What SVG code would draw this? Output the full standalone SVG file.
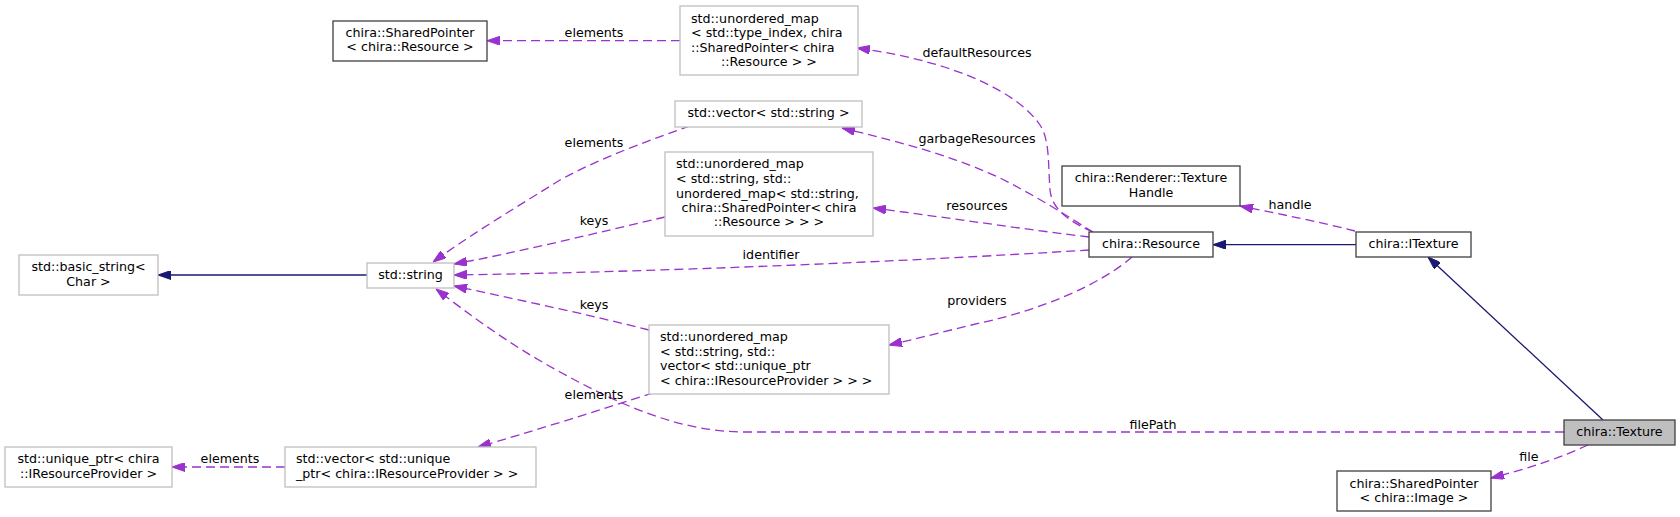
<svg xmlns="http://www.w3.org/2000/svg" width="1680" height="517" viewBox="0 0 1680 517">
<style>
  text { font-family: "DejaVu Sans", "Liberation Sans", sans-serif; font-size: 12.67px; fill: #000; }
  .c { text-anchor: middle; }
  .doc { fill: #fff; stroke: #404040; stroke-width: 1.3; }
  .und { fill: #fff; stroke: #bfbfbf; stroke-width: 1.3; }
  .cur { fill: #bfbfbf; stroke: #404040; stroke-width: 1.3; }
  .use { fill: none; stroke: #9a32cd; stroke-width: 1.3; stroke-dasharray: 9,5; marker-end: url(#ap); }
  .inh { fill: none; stroke: #191970; stroke-width: 1.3; marker-end: url(#an); }
</style>
<defs>
  <marker id="ap" markerUnits="userSpaceOnUse" viewBox="0 0 13 9" refX="13" refY="4.5" markerWidth="13" markerHeight="9" orient="auto">
    <path d="M0,0 L13,4.5 L0,9 z" fill="#9a32cd" stroke="#9a32cd" stroke-width="1"/>
  </marker>
  <marker id="an" markerUnits="userSpaceOnUse" viewBox="0 0 13 9" refX="13" refY="4.5" markerWidth="13" markerHeight="9" orient="auto">
    <path d="M0,0 L13,4.5 L0,9 z" fill="#191970" stroke="#191970" stroke-width="1"/>
  </marker>
</defs>
<rect width="1680" height="517" fill="#fff"/>

<g id="connectors">
  <path class="inh" d="M1603,420 L1428,257"/>
  <path class="inh" d="M1356,244.7 L1213,244.7"/>
  <path class="use" d="M1355,231 C1320,222 1280,214 1240,206"/>
  <path class="use" d="M1093,232 C1070,222 1052,210 1050,190 C1048,165 1050,140 1040,125 C1020,95 960,62 857,48"/>
  <path class="use" d="M1093,232 C1070,218 1040,198 1000,178 C950,155 900,142 842,128"/>
  <path class="use" d="M1089,237 C1030,230 950,218 873,208"/>
  <path class="use" d="M1089,250 C900,262 650,272 454,275"/>
  <path class="use" d="M1132,257 C1100,285 1040,310 980,323 C950,330 920,338 889,345"/>
  <path class="use" d="M665,217 C600,232 520,252 454,264"/>
  <path class="use" d="M690,126 C650,140 600,158 560,180 C520,205 470,235 433,262"/>
  <path class="use" d="M649,330 C590,315 520,300 454,286"/>
  <path class="use" d="M1564,432 L745,432 C680,432 620,405 560,372 C510,345 470,315 436,289"/>
  <path class="use" d="M653,393 C600,410 530,432 478,447"/>
  <path class="use" d="M285,467 L172,467"/>
  <path class="use" d="M680,40.7 L487,40.7"/>
  <path class="inh" d="M367,275 L158,275"/>
  <path class="use" d="M1588,445 C1560,458 1530,468 1491,478"/>
  <text class="c" x="594" y="37">elements</text>
  <text class="c" x="977" y="57">defaultResources</text>
  <text class="c" x="594" y="146.8">elements</text>
  <text class="c" x="977" y="142.8">garbageResources</text>
  <text class="c" x="1290" y="208.5">handle</text>
  <text class="c" x="977" y="210">resources</text>
  <text class="c" x="594" y="224.5">keys</text>
  <text class="c" x="771" y="258.8">identifier</text>
  <text class="c" x="594" y="308.5">keys</text>
  <text class="c" x="977" y="304.8">providers</text>
  <text class="c" x="594" y="398.8">elements</text>
  <text class="c" x="1153" y="428.5">filePath</text>
  <text class="c" x="1529" y="461">file</text>
  <text class="c" x="230" y="463">elements</text>
</g>

<g id="node-texture">
  <rect class="cur" x="1564" y="420" width="111" height="25"/>
  <text class="c" x="1619.5" y="436">chira::Texture</text>
</g>
<g id="node-itexture">
  <rect class="doc" x="1356" y="232" width="115" height="25"/>
  <text class="c" x="1413.5" y="248">chira::ITexture</text>
</g>
<g id="node-resource">
  <rect class="doc" x="1089" y="232" width="124" height="25"/>
  <text class="c" x="1151" y="248">chira::Resource</text>
</g>
<g id="node-texturehandle">
  <rect class="doc" x="1062" y="166" width="178" height="40"/>
  <text class="c" x="1151" y="182">chira::Renderer::Texture</text>
  <text class="c" x="1151" y="196.8">Handle</text>
</g>
<g id="node-sharedptr-image">
  <rect class="doc" x="1337" y="471" width="154" height="40"/>
  <text class="c" x="1414" y="487.5">chira::SharedPointer</text>
  <text class="c" x="1414" y="502">&lt; chira::Image &gt;</text>
</g>
<g id="node-sharedptr-resource">
  <rect class="doc" x="333" y="21" width="154" height="40"/>
  <text class="c" x="410" y="37">chira::SharedPointer</text>
  <text class="c" x="410" y="51">&lt; chira::Resource &gt;</text>
</g>
<g id="node-map-typeindex">
  <rect class="und" x="680" y="6" width="178" height="69"/>
  <text x="691" y="22.8">std::unordered_map</text>
  <text x="691" y="37.2">&lt; std::type_index, chira</text>
  <text x="691" y="51.5">::SharedPointer&lt; chira</text>
  <text class="c" x="769" y="66.2">::Resource &gt; &gt;</text>
</g>
<g id="node-vector-string">
  <rect class="und" x="675" y="101" width="187" height="26"/>
  <text class="c" x="768.5" y="117.2">std::vector&lt; std::string &gt;</text>
</g>
<g id="node-map-string-map">
  <rect class="und" x="665" y="152" width="208" height="84"/>
  <text x="676" y="168.2">std::unordered_map</text>
  <text x="676" y="182.8">&lt; std::string, std::</text>
  <text x="676" y="197.5">unordered_map&lt; std::string,</text>
  <text class="c" x="769" y="211.8">chira::SharedPointer&lt; chira</text>
  <text class="c" x="769" y="226.2">::Resource &gt; &gt; &gt;</text>
</g>
<g id="node-string">
  <rect class="und" x="367" y="263" width="87" height="25"/>
  <text class="c" x="410.5" y="279">std::string</text>
</g>
<g id="node-basic-string">
  <rect class="und" x="19" y="255" width="139" height="40"/>
  <text class="c" x="88.5" y="270.5">std::basic_string&lt;</text>
  <text class="c" x="88.5" y="286">Char &gt;</text>
</g>
<g id="node-map-providers">
  <rect class="und" x="649" y="325" width="240" height="69"/>
  <text x="660" y="341.2">std::unordered_map</text>
  <text x="660" y="355.5">&lt; std::string, std::</text>
  <text x="660" y="370.2">vector&lt; std::unique_ptr</text>
  <text x="660" y="384.8">&lt; chira::IResourceProvider &gt; &gt; &gt;</text>
</g>
<g id="node-vector-unique">
  <rect class="und" x="285" y="447" width="251" height="40"/>
  <text x="296" y="463">std::vector&lt; std::unique</text>
  <text x="296" y="478">_ptr&lt; chira::IResourceProvider &gt; &gt;</text>
</g>
<g id="node-unique-ptr">
  <rect class="und" x="5" y="447" width="167" height="40"/>
  <text class="c" x="88.5" y="463">std::unique_ptr&lt; chira</text>
  <text class="c" x="88.5" y="478">::IResourceProvider &gt;</text>
</g>
</svg>
